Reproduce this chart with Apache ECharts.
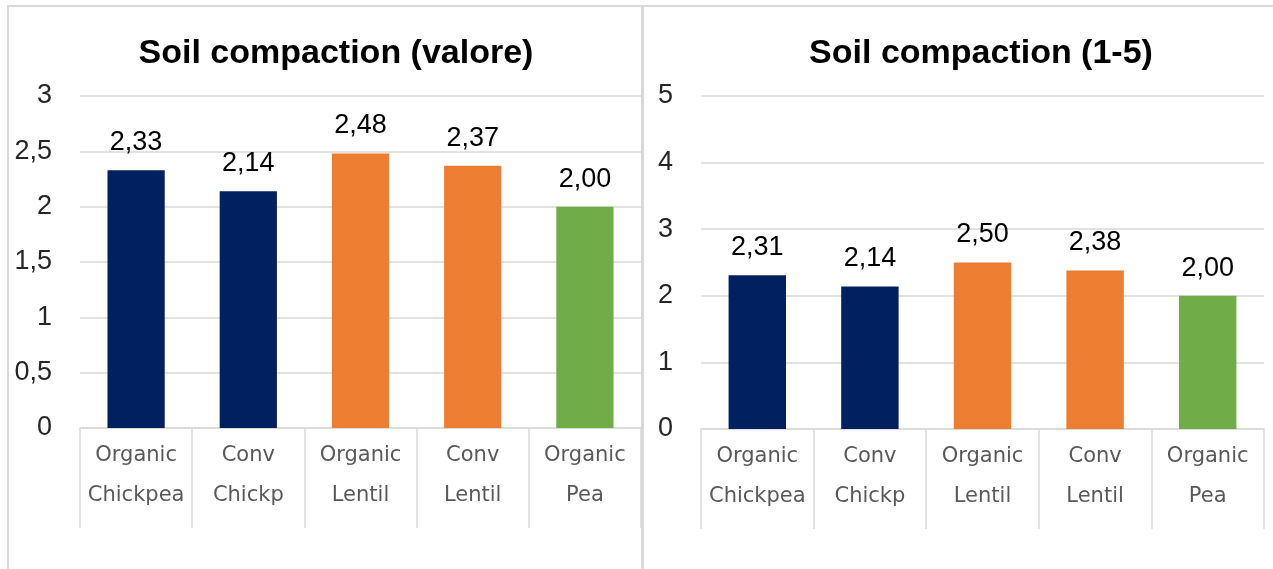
<!DOCTYPE html>
<html>
<head>
<meta charset="utf-8">
<script src="https://cdn.jsdelivr.net/npm/echarts@6/dist/echarts.min.js"></script>
<style>
  html, body { margin: 0; padding: 0; background: #fff; }
  #chart { width: 1273px; height: 569px; }
</style>
</head>
<body>
<div id="chart"></div>
<script>
// categorie e valori
var categories = ['Organic\nChickpea', 'Conv\nChickp', 'Organic\nLentil', 'Conv\nLentil', 'Organic\nPea'];
var valoreValues = [2.33, 2.14, 2.48, 2.37, 2.00];
var scaleValues = [2.31, 2.14, 2.50, 2.38, 2.00];
var barColors = ['#002060', '#002060', '#ED7D31', '#ED7D31', '#70AD47'];

var numFont = 'Liberation Sans, Arial, sans-serif';

function comma(v) {
    return String(v).replace('.', ',');
}

function barData(values) {
    return values.map(function (v, i) {
        return { value: v, itemStyle: { color: barColors[i] } };
    });
}

function xAxisOpt(gridIndex) {
    return {
        type: 'category',
        gridIndex: gridIndex,
        data: categories,
        axisLine: { lineStyle: { color: '#d9d9d9', width: 1.5 } },
        axisTick: { show: true, interval: 0, length: 100, lineStyle: { color: '#d9d9d9', width: 1.5 } },
        axisLabel: {
            interval: 0,
            hideOverlap: false,
            margin: 8,
            fontFamily: 'DejaVu Sans, Verdana, sans-serif',
            fontSize: 21,
            lineHeight: 40,
            color: '#595959'
        }
    };
}

function yAxisOpt(gridIndex, max, interval) {
    return {
        type: 'value',
        gridIndex: gridIndex,
        min: 0,
        max: max,
        interval: interval,
        axisLine: { show: false },
        axisTick: { show: false },
        splitLine: { lineStyle: { color: '#d9d9d9', width: 1.5 } },
        axisLabel: {
            margin: 28,
            fontFamily: numFont,
            fontSize: 27,
            color: '#262626',
            formatter: function (v) { return comma(v); }
        }
    };
}

function seriesOpt(index, values) {
    return {
        type: 'bar',
        xAxisIndex: index,
        yAxisIndex: index,
        barWidth: '51%',
        data: barData(values),
        label: {
            show: true,
            position: 'top',
            distance: 14,
            fontFamily: numFont,
            fontSize: 27,
            color: '#000',
            formatter: function (p) { return p.value.toFixed(2).replace('.', ','); }
        }
    };
}

var myChart = echarts.init(document.getElementById('chart'));

var option = {
    animation: false,
    backgroundColor: '#fff',
    title: [
        {
            text: 'Soil compaction (valore)',
            left: 331, top: 32, textAlign: 'center',
            textStyle: { fontFamily: numFont, fontSize: 34, fontWeight: 'bold', color: '#000' }
        },
        {
            text: 'Soil compaction (1-5)',
            left: 976, top: 32, textAlign: 'center',
            textStyle: { fontFamily: numFont, fontSize: 34, fontWeight: 'bold', color: '#000' }
        }
    ],
    graphic: [
        { type: 'rect', shape: { x: 8, y: 6, width: 634, height: 580 },
          style: { fill: 'none', stroke: '#d9d9d9', lineWidth: 2 }, silent: true },
        { type: 'rect', shape: { x: 643, y: 6, width: 640, height: 580 },
          style: { fill: 'none', stroke: '#d9d9d9', lineWidth: 2 }, silent: true }
    ],
    grid: [
        { left: 80, right: 632, top: 96, bottom: 141 },
        { left: 701, right: 9, top: 96, bottom: 140 }
    ],
    xAxis: [xAxisOpt(0), xAxisOpt(1)],
    yAxis: [yAxisOpt(0, 3, 0.5), yAxisOpt(1, 5, 1)],
    series: [seriesOpt(0, valoreValues), seriesOpt(1, scaleValues)]
};

myChart.setOption(option);
</script>
</body>
</html>
